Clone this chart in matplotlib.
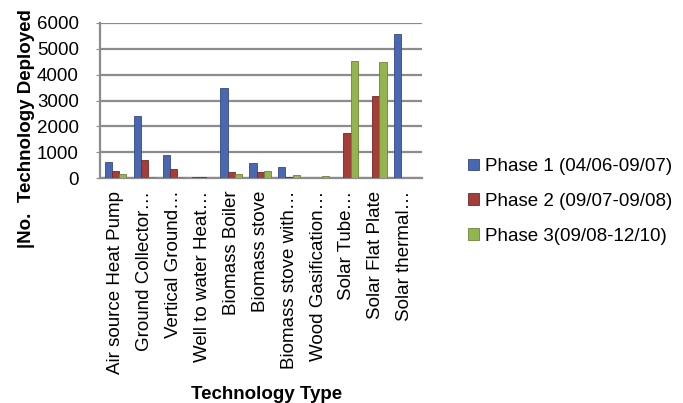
import matplotlib.pyplot as plt
import numpy as np

plt.rcParams['font.family'] = ['Liberation Sans', 'DejaVu Sans']

categories = ["Air source Heat Pump", "Ground Collector…", "Vertical Ground…",
              "Well to water Heat…", "Biomass Boiler", "Biomass stove",
              "Biomass stove with…", "Wood Gasification…", "Solar Tube…",
              "Solar Flat Plate", "Solar thermal…"]
phase1 = [620, 2420, 880, 60, 3470, 580, 440, 0, 0, 0, 5580]
phase2 = [280, 720, 370, 40, 220, 250, 30, 0, 1750, 3180, 0]
phase3 = [170, 60, 60, 20, 160, 290, 110, 80, 4520, 4480, 0]
series_names = ["Phase 1 (04/06-09/07)", "Phase 2 (09/07-09/08)", "Phase 3(09/08-12/10)"]
colors = ["#4A68B0", "#A33E3B", "#93B550"]
edges = ["#33497F", "#722A28", "#6A8538"]

fig = plt.figure(figsize=(6.83, 4.03), dpi=100)
ax = fig.add_axes([0.146, 0.558, 0.472, 0.385])

x = np.arange(len(categories))
w = 0.25
for i, (vals, c, ec, name) in enumerate(zip([phase1, phase2, phase3], colors, edges, series_names)):
    ax.bar(x + (i - 1) * w, vals, width=w, color=c, edgecolor=ec, linewidth=0.6,
           label=name, zorder=3)

ax.set_ylim(0, 6000)
ax.set_xlim(-0.55, 10.6)
ax.set_yticks(range(0, 6001, 1000))
ax.yaxis.grid(True, color="#8c8c8c", linewidth=1.6, zorder=0)
ax.set_axisbelow(True)
for s in ["top", "right"]:
    ax.spines[s].set_visible(False)
ax.spines["left"].set_color("#8c8c8c")
ax.spines["left"].set_linewidth(1.6)
ax.spines["bottom"].set_color("#8c8c8c")
ax.spines["bottom"].set_linewidth(1.6)
ax.tick_params(axis="y", labelsize=13.5, length=3, color="#8c8c8c", pad=12)
ax.tick_params(axis="x", length=0, pad=9)
ax.set_xticks(x)
ax.set_xticklabels(categories, rotation=90, fontsize=13.5, va="top", ha="center")

ax.set_ylabel("|No.  Technology Deployed", fontsize=13.5, fontweight="bold")
ax.yaxis.set_label_coords(-0.2, 0.32)
fig.text(0.39, 0.01, "Technology Type", fontsize=13.5, fontweight="bold", ha="center")

ax.legend(loc="center left", bbox_to_anchor=(1.09, -0.15), frameon=False,
          fontsize=13.5, handlelength=0.6, handleheight=0.6, handletextpad=0.3,
          labelspacing=0.95)

fig.savefig("out.png", dpi=100)
